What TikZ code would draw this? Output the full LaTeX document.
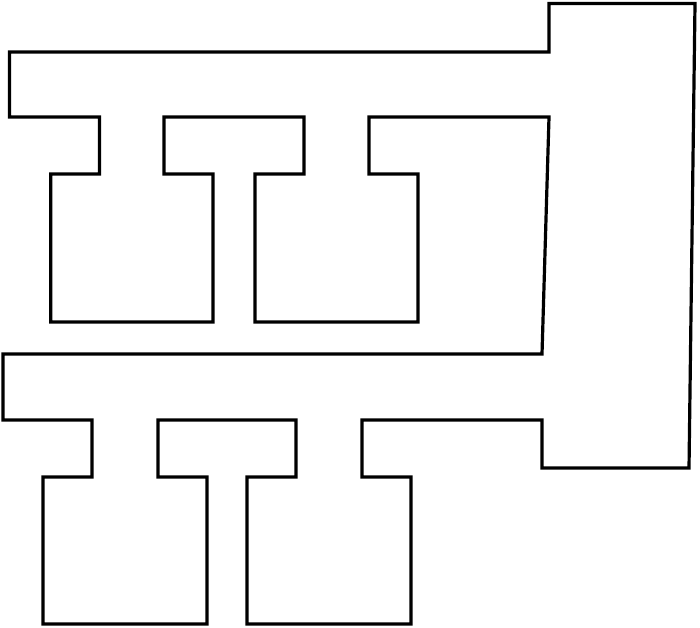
\documentclass[tikz,border=0pt]{standalone}
\usepackage{tikz}

\begin{document}
\begin{tikzpicture}[
        x=1pt, y=-1pt,
        outline/.style={draw, line width=3.2pt, line join=miter} % one closed wall
      ]
        \useasboundingbox (0,0) rectangle (700,627);

        % Upper bar with its two T-shaped rooms
        \draw[outline] (549,3.5) -- (549,52) -- (9.5,52) -- (9.5,117)
          -- (99.5,117) -- (99.5,174) -- (50.7,174) -- (50.7,322) -- (213,322)
          -- (213,174) -- (164,174) -- (164,117) -- (304,117) -- (304,174)
          -- (255,174) -- (255,322) -- (418,322) -- (418,174) -- (369,174)
          -- (369,117) -- (549,117)
        % Lower bar with its two T-shaped rooms
          -- (542,354) -- (3,354) -- (3,420) -- (92,420) -- (92,477)
          -- (43,477) -- (43,624) -- (207,624) -- (207,477) -- (158,477)
          -- (158,420) -- (296,420) -- (296,477) -- (247,477) -- (247,624)
          -- (411,624) -- (411,477) -- (362,477) -- (362,420) -- (542,420)
        % Right-hand column
          -- (542,468) -- (689,468) -- (695,3.5) -- cycle;
    \end{tikzpicture}
\end{document}
